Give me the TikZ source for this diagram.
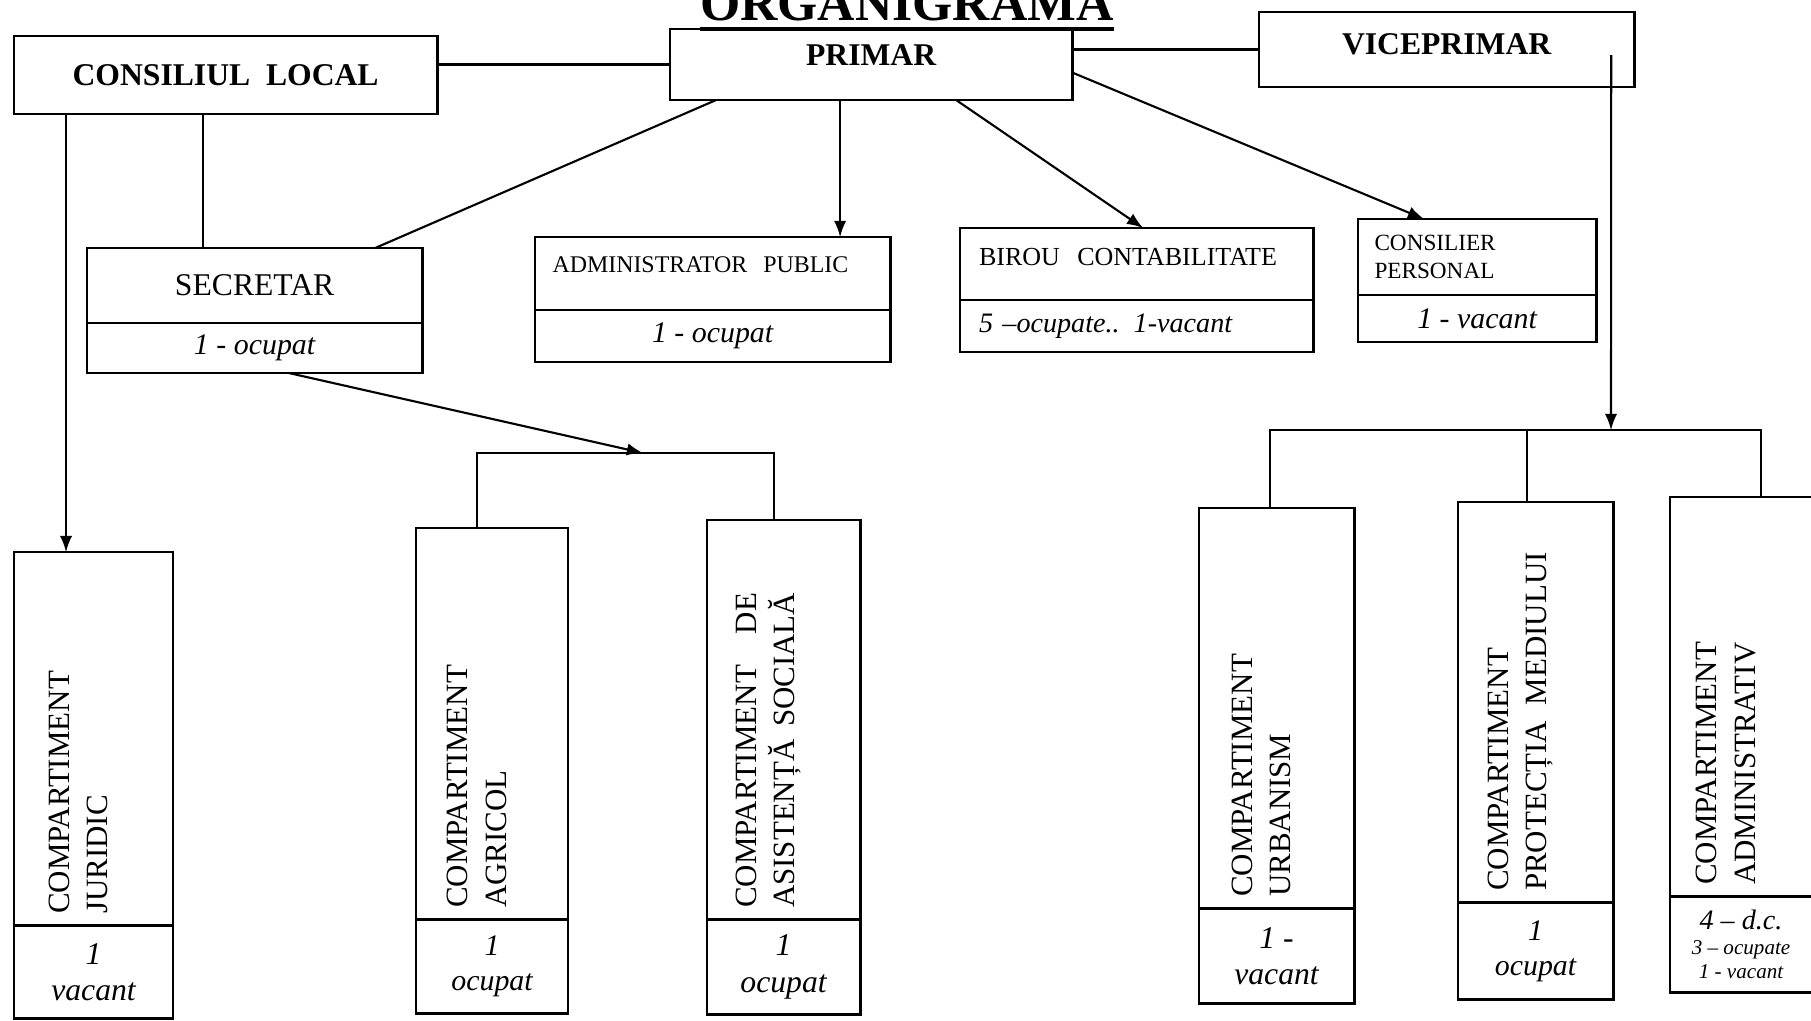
\documentclass[tikz,border=0pt]{standalone}
\usepackage{fontspec}
\setmainfont{Liberation Serif}
\usepackage{tikz}
\usetikzlibrary{arrows,positioning,calc}
\tikzstyle{arrow} = [semithick,->,>=latex]
\tikzstyle{link} = [semithick]
\tikzstyle{headbox} = [rectangle, draw, thick, outer sep=0pt, anchor=north west, text centered, font=\bfseries\fontsize{9}{11}\selectfont]
\tikzstyle{namebox} = [rectangle, draw, thick, outer sep=0pt, anchor=north west, font=\fontsize{6.8}{8.5}\selectfont]
\tikzstyle{postbox} = [rectangle, draw, thick, outer sep=0pt, align=center, font=\itshape\fontsize{8.5}{10}\selectfont]
\tikzstyle{deptbox} = [rectangle, draw, thick, outer sep=0pt, anchor=north west, font=\fontsize{8.8}{11}\selectfont]
\newcommand{\depttext}[2]{\rotatebox{90}{\parbox{#1}{\raggedright #2}}\kern0.3cm}

\begin{document}
\begin{tikzpicture}[x=0.01cm, y=-0.01cm]
\useasboundingbox (0,0) rectangle (1811,1020);
\clip (0,0) rectangle (1811,1020);
% Title
\node[font=\bfseries\fontsize{14.7}{16}\selectfont, anchor=base, inner sep=0pt] (title) at (907,20) {ORGANIGRAMA};
\draw[line width=1.1pt] ([yshift=-0.09cm]title.base west) -- ([yshift=-0.09cm]title.base east);
% Top row
\node[headbox, minimum width=4.23cm, minimum height=0.78cm] (cons) at (14,36) {CONSILIUL\ \ LOCAL};
\node[headbox, minimum width=4.02cm, minimum height=0.71cm, text depth=0.18cm] (primar) at (670,29) {PRIMAR};
\node[headbox, minimum width=3.75cm, minimum height=0.75cm, text depth=0.12cm] (vice) at (1259,12) {VICEPRIMAR};
% Second row
\node[namebox, minimum width=3.35cm, minimum height=0.75cm, font=\fontsize{9}{11}\selectfont] (secr) at (87,248) {SECRETAR};
\node[postbox, below=0pt of secr, minimum width=3.35cm, minimum height=0.5cm] (secrnr) {1 - ocupat};
\node[namebox, minimum width=3.55cm, minimum height=0.73cm, text width=3.2cm, align=left, text depth=0.18cm] (admin) at (535,237) {ADMINISTRATOR\ \ PUBLIC};
\node[postbox, below=0pt of admin, minimum width=3.55cm, minimum height=0.52cm] (adminnr) {1 - ocupat};
\node[namebox, minimum width=3.53cm, minimum height=0.72cm, text width=3.15cm, align=left, text depth=0.14cm, font=\fontsize{7.4}{9}\selectfont] (birou) at (960,228) {BIROU\ \ CONTABILITATE};
\node[postbox, below=0pt of birou, minimum width=3.53cm, minimum height=0.52cm, text width=3.15cm, align=left, font=\itshape\fontsize{8}{10}\selectfont] (birounr) {5 –ocupate.. 1-vacant};
\node[namebox, minimum width=2.38cm, minimum height=0.76cm, text width=2.05cm, align=left, font=\fontsize{6.6}{8}\selectfont] (consp) at (1358,219) {CONSILIER\\PERSONAL};
\node[postbox, below=0pt of consp, minimum width=2.38cm, minimum height=0.47cm] (conspnr) {1 - vacant};
% Compartimente
\node[deptbox, minimum width=1.59cm, minimum height=3.72cm] (jur) at (14,552) {\depttext{3.5cm}{COMPARTIMENT\\JURIDIC}};
\node[postbox, below=0pt of jur, minimum width=1.59cm, minimum height=0.93cm, font=\itshape\fontsize{9}{10.5}\selectfont] (jurnr) {1\\vacant};
\node[deptbox, minimum width=1.52cm, minimum height=3.90cm] (agr) at (416,528) {\depttext{3.68cm}{COMPARTIMENT\\AGRICOL}};
\node[postbox, below=0pt of agr, minimum width=1.52cm, minimum height=0.94cm] (agrnr) {1\\ocupat};
\node[deptbox, minimum width=1.53cm, minimum height=3.98cm] (asis) at (707,520) {\depttext{3.76cm}{\makebox[3.15cm][s]{COMPARTIMENT DE}\\\makebox[3.15cm][s]{ASISTENȚĂ SOCIALĂ}}};
\node[postbox, below=0pt of asis, minimum width=1.53cm, minimum height=0.95cm, font=\itshape\fontsize{9}{10.5}\selectfont] (asisnr) {1\\ocupat};
\node[deptbox, minimum width=1.55cm, minimum height=3.99cm] (urb) at (1199,508) {\depttext{3.77cm}{COMPARTIMENT\\URBANISM}};
\node[postbox, below=0pt of urb, minimum width=1.55cm, minimum height=0.95cm, font=\itshape\fontsize{9}{10.5}\selectfont] (urbnr) {1 -\\vacant};
\node[deptbox, minimum width=1.55cm, minimum height=3.97cm] (prot) at (1458,502) {\depttext{3.77cm}{COMPARTIMENT\\PROTECȚIA\ \ MEDIULUI}};
\node[postbox, below=0pt of prot, minimum width=1.55cm, minimum height=0.97cm] (protnr) {1\\ocupat};
\node[deptbox, minimum width=1.42cm, minimum height=3.98cm] (adm) at (1670,497) {\depttext{3.76cm}{COMPARTIMENT\\ADMINISTRATIV}};
\node[postbox, below=0pt of adm, minimum width=1.42cm, minimum height=0.96cm, font=\itshape\fontsize{6}{7}\selectfont] (admnr) {{\fontsize{8}{9}\selectfont 4 – d.c.}\\3 – ocupate\\1 - vacant};

% Top links
\draw[link] (cons.east |- primar.west) -- (primar.west);
\draw[link] (primar.east |- vice.west) -- (vice.west);
% Consiliul local
\coordinate (j1) at ([xshift=0.52cm]cons.south west);
\draw[arrow] (j1) -- (j1 |- jur.north);
\coordinate (s1) at ([xshift=1.16cm]secr.north west);
\draw[link] (s1) -- (s1 |- cons.south);
% Primar
\draw[link] ([xshift=0.46cm]primar.south west) -- ([xshift=2.88cm]secr.north west);
\coordinate (a1) at ([xshift=1.70cm]primar.south west);
\draw[arrow] (a1) -- (a1 |- admin.north);
\draw[arrow] ([xshift=2.86cm]primar.south west) -- ([xshift=1.83cm]birou.north west);
\draw[arrow] ([yshift=-0.08cm]primar.east) -- ([xshift=0.66cm]consp.north west);
% Secretar
\coordinate (sb) at (643,453);
\coordinate (sbl) at (477,453);
\coordinate (sbr) at (774,453);
\draw[arrow] ([xshift=2.02cm]secrnr.south west) -- (sb);
\draw[link] (sbl |- agr.north) -- (sbl) -- (sbr) -- (sbr |- asis.north);
% Viceprimar
\coordinate (vb) at (1611,430);
\coordinate (vbl) at (1270,430);
\coordinate (vbm) at (1527,430);
\coordinate (vbr) at (1761,430);
\draw[arrow] ([xshift=-0.23cm,yshift=-0.055cm]vice.east) -- (vb);
\draw[link] (vbl |- urb.north) -- (vbl) -- (vbr) -- (vbr |- adm.north);
\draw[link] (vbm) -- (vbm |- prot.north);
\end{tikzpicture}
\end{document}
